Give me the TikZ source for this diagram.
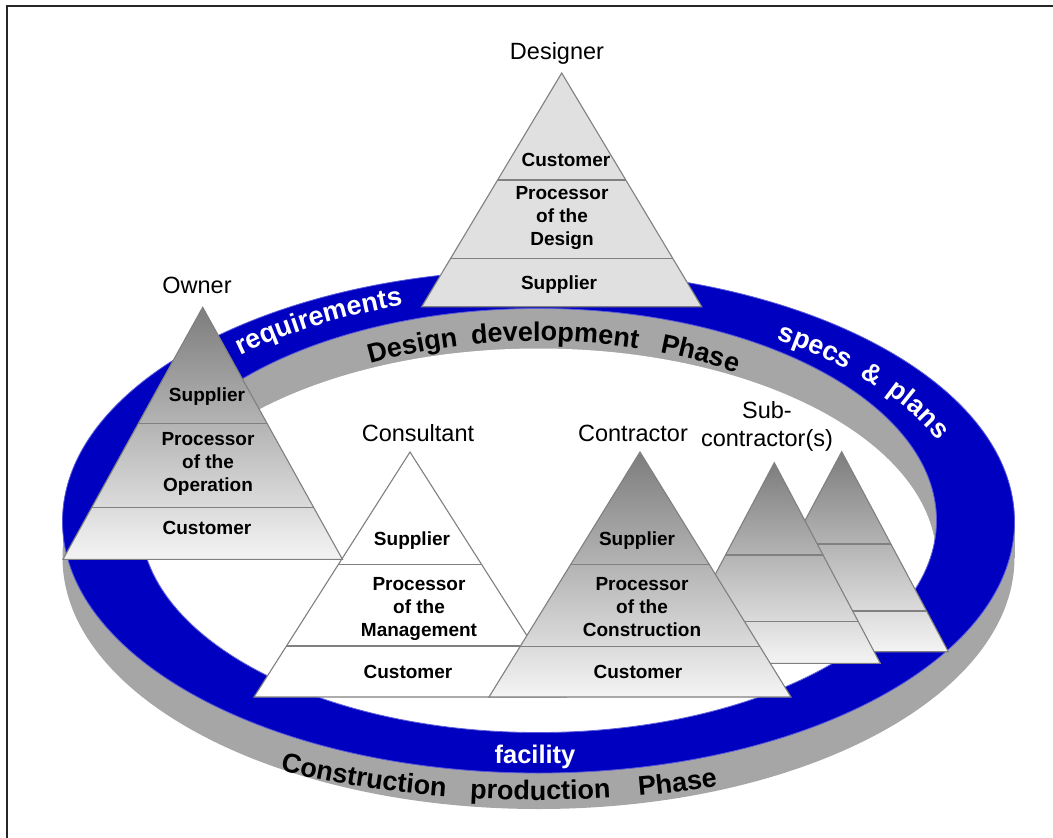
\documentclass[tikz,border=0pt]{standalone}
\usepackage{fontspec}
\setmainfont{Liberation Sans}
\usetikzlibrary{calc,decorations.text}
\definecolor{ringblue}{RGB}{0,0,192}
\definecolor{ringedge}{RGB}{90,90,220}
\definecolor{wall}{RGB}{166,166,166}
\definecolor{triedge}{RGB}{128,128,128}
\definecolor{gtop}{RGB}{125,125,125}
\definecolor{gbot}{RGB}{244,244,244}
\definecolor{dfill}{RGB}{224,224,224}
\newcommand\ringfont{\fontsize{27}{27}\selectfont\bfseries}
\newcommand\trifont{\fontsize{19}{23.3}\selectfont\bfseries}
\newcommand\lblfont{\fontsize{23.5}{28}\selectfont}
\newcommand\pyramid[8]{%
  \coordinate (#1-a) at (#2,#3);
  \coordinate (#1-l) at ({#2-#4},#5);
  \coordinate (#1-r) at ({#2+#4},#5);
  \path[#8] (#1-a) -- (#1-l) -- (#1-r) -- cycle;
  \pgfmathsetmacro\pyrtA{(#6-#3)/(#5-#3)}%
  \pgfmathsetmacro\pyrtB{(#7-#3)/(#5-#3)}%
  \draw[tri] ($(#1-a)!\pyrtA!(#1-l)$) -- ($(#1-a)!\pyrtA!(#1-r)$);
  \draw[tri] ($(#1-a)!\pyrtB!(#1-l)$) -- ($(#1-a)!\pyrtB!(#1-r)$);
  \draw[tri] (#1-a) -- (#1-l) -- (#1-r) -- cycle;
}
\begin{document}
\begin{tikzpicture}[x=1pt,y=-1pt,
  tri/.style={draw=triedge,line width=1.1pt,line join=miter},
  grad/.style={top color=gtop,bottom color=gbot},
  flat/.style={fill=dfill},
  blank/.style={fill=white},
  intext/.style={font=\trifont,align=center,anchor=base,inner sep=0pt},
  lbl/.style={font=\lblfont,align=center,anchor=base,inner sep=0pt},
  wordpath/.style={decorate,decoration={text along path,text align=left,text={#1}}},
]
\useasboundingbox (0,0) rectangle (1053,838);
% frame
\draw[line width=1.6pt,black!85] (7,838) -- (7,6) -- (1053,6);

% ring: outer wall
\fill[wall] (538.5,557.5) ellipse [x radius=476,y radius=251.5];
\fill[wall] (62.5,521.5) rectangle (1014.5,557.5);
% ring top surface
\fill[ringblue] (538.5,521.5) ellipse [x radius=476,y radius=251.5];
\draw[ringedge,line width=0.8pt] (538.5,521.5) ellipse [x radius=476,y radius=251.5];
% hole: inner wall and floor
\fill[wall] (538.5,520.5) ellipse [x radius=398,y radius=212];
\begin{scope}
  \clip (538.5,520.5) ellipse [x radius=398,y radius=212];
  \fill[white] (538.5,560.5) ellipse [x radius=398,y radius=212];
\end{scope}
\draw[ringedge,line width=0.8pt] (538.5,520.5) ellipse [x radius=398,y radius=212];

% ring texts
\path[wordpath={|\ringfont|requirements},decoration={text color=white}]
  plot[domain=0:1,samples=80,variable=\t] ({538.5+440*cos(132.7-60*\t)},{526-232*sin(132.7-60*\t)});
\path[wordpath={|\ringfont|specs{\hspace*{14pt}}{\&}{\hspace*{12pt}}plans},decoration={text color=white}]
  plot[domain=0:1,samples=80,variable=\t] ({538.5+432*cos(56.5-50*\t)},{526-224*sin(56.5-50*\t)});
\path[wordpath={|\ringfont|Design}]
  plot[domain=0:1,samples=60,variable=\t] ({538.5+353*cos(118.5-40*\t)},{526-185*sin(118.5-40*\t)});
\path[wordpath={|\ringfont|development}]
  plot[domain=0:1,samples=60,variable=\t] ({538.5+353*cos(100.9-50*\t)},{526-185*sin(100.9-50*\t)});
\path[wordpath={|\ringfont|Phase}]
  plot[domain=0:1,samples=60,variable=\t] ({538.5+353*cos(69.9-40*\t)},{526-185*sin(69.9-40*\t)});
\path[wordpath={|\ringfont|Construction}]
  plot[domain=0:1,samples=60,variable=\t] ({538.5+540*cos(241.4+30*\t)},{561-239*sin(241.4+30*\t)});
\path[wordpath={|\ringfont|production}]
  plot[domain=0:1,samples=60,variable=\t] ({538.5+540*cos(262.7+30*\t)},{561-239*sin(262.7+30*\t)});
\path[wordpath={|\ringfont|Phase}]
  plot[domain=0:1,samples=60,variable=\t] ({538.5+540*cos(280.7+30*\t)},{561-239*sin(280.7+30*\t)});
\node[font=\fontsize{25.5}{25.5}\selectfont\bfseries,text=white,anchor=base,inner sep=0pt] (facility) at (535,763) {facility};

% pyramids (back to front)
\pyramid{sub2}{841.7}{451.7}{106.6}{651.7}{544}{611}{grad}
\pyramid{sub1}{774.3}{462.7}{106}{663.3}{555}{621.7}{grad}
\pyramid{cons}{410}{452}{156}{697}{564.3}{646}{blank}
\pyramid{contr}{640}{452}{151}{697}{564.3}{646.7}{grad}
\pyramid{own}{202.7}{307.3}{139.7}{559.3}{423.3}{507.7}{grad}
\pyramid{des}{561.7}{73}{140}{306.7}{180}{258.3}{flat}

% pyramid texts (base = baseline of last line)
\node[intext] (des-cust) at (566,166) {Customer};
\node[intext] (des-proc) at (562,245.9) {Processor\\of the\\Design};
\node[intext] (des-supp) at (559,289) {Supplier};
\node[intext] (own-supp) at (207,401) {Supplier};
\node[intext] (own-proc) at (208,491.6) {Processor\\of the\\Operation};
\node[intext] (own-cust) at (207,534) {Customer};
\node[intext] (cons-supp) at (412,545) {Supplier};
\node[intext] (cons-proc) at (419,636.6) {Processor\\of the\\Management};
\node[intext] (cons-cust) at (408,678) {Customer};
\node[intext] (contr-supp) at (637,545) {Supplier};
\node[intext] (contr-proc) at (642,636.6) {Processor\\of the\\Construction};
\node[intext] (contr-cust) at (638,678) {Customer};

% labels
\node[lbl] (designer) at (557,59) {Designer};
\node[lbl] (owner) at (197,293) {Owner};
\node[lbl] (consultant) at (418,441) {Consultant};
\node[lbl] (contractor) at (633,441) {Contractor};
\node[lbl] (subcontractor) at (767,446) {Sub-\\contractor(s)};
\end{tikzpicture}
\end{document}
